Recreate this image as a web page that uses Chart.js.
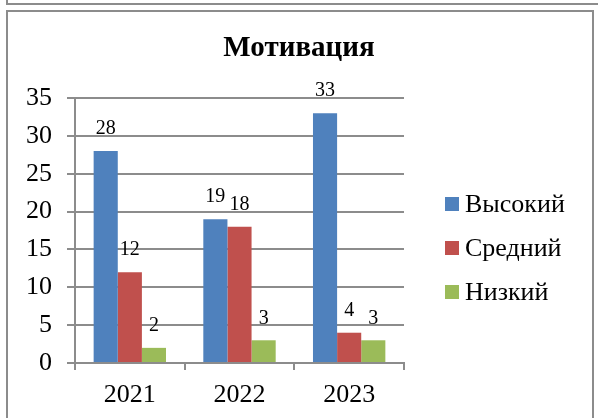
<!DOCTYPE html>
<html lang="ru">
<head>
<meta charset="utf-8">
<title>Мотивация</title>
<script src="https://cdn.jsdelivr.net/npm/chart.js@4"></script>
<style>
  html, body { margin: 0; padding: 0; background: #fff; }
  body { width: 598px; height: 418px; position: relative; overflow: hidden; }
  .frame-top { position: absolute; left: 6px; top: -2px; right: -4px; height: 5px; border-left: 2px solid #8c8c8c; border-bottom: 2px solid #8c8c8c; }
  .frame { position: absolute; left: 6px; top: 10px; width: 584px; height: 420px; border: 2px solid #8c8c8c; }
  #chart { position: absolute; left: 0; top: 0; }
</style>
</head>
<body>
<div class="frame-top"></div>
<div class="frame"></div>
<canvas id="chart" width="598" height="418"></canvas>
<script>
  // data
  const years = ['2021', '2022', '2023'];
  const seriesNames = ['Высокий', 'Средний', 'Низкий'];
  const high = [28, 19, 33];
  const medium = [12, 18, 4];
  const low = [2, 3, 3];
  const yTicks = [0, 5, 10, 15, 20, 25, 30, 35];

  const COLORS = ['#4F81BD', '#C0504D', '#9BBB59'];
  const FONT = "'Liberation Serif', 'Times New Roman', serif";
  const GRID = '#8c8c8c';

  // numbers above bars
  const barValues = {
    id: 'barValues',
    afterDatasetsDraw(chart) {
      const ctx = chart.ctx;
      ctx.save();
      ctx.font = '20px ' + FONT;
      ctx.fillStyle = '#000';
      ctx.textAlign = 'center';
      ctx.textBaseline = 'middle';
      chart.data.datasets.forEach((ds, i) => {
        chart.getDatasetMeta(i).data.forEach((bar, j) => {
          ctx.fillText(String(ds.data[j]), bar.x, bar.y - 22);
        });
      });
      ctx.restore();
    }
  };

  // legend on the right, placed like the original
  const sideLegend = {
    id: 'sideLegend',
    afterDraw(chart) {
      const ctx = chart.ctx;
      ctx.save();
      ctx.font = '26px ' + FONT;
      ctx.textBaseline = 'middle';
      chart.data.datasets.forEach((ds, i) => {
        const cy = 204 + i * 44;
        ctx.fillStyle = ds.backgroundColor;
        ctx.fillRect(445, cy - 7, 14, 14);
        ctx.fillStyle = '#000';
        ctx.fillText(ds.label, 465, cy + 1);
      });
      ctx.restore();
    }
  };

  new Chart(document.getElementById('chart'), {
    type: 'bar',
    data: {
      labels: years,
      datasets: [high, medium, low].map((d, i) => ({
        label: seriesNames[i],
        data: d,
        backgroundColor: COLORS[i],
        borderWidth: 0,
        categoryPercentage: 0.66,
        barPercentage: 1
      }))
    },
    options: {
      responsive: false,
      animation: false,
      devicePixelRatio: 1,
      layout: { padding: { top: 12, left: 0, right: 0, bottom: 0 } },
      plugins: {
        legend: { display: false },
        tooltip: { enabled: false },
        title: {
          display: true,
          text: 'Мотивация',
          color: '#000',
          font: { family: FONT, size: 29, weight: 'bold' },
          padding: { top: 19, bottom: 32.2 }
        }
      },
      scales: {
        x: {
          afterFit(axis) { axis.height = 55; },
          grid: { drawOnChartArea: false, color: GRID, lineWidth: 2, tickLength: 7, offset: true },
          border: { color: GRID, width: 2 },
          ticks: { color: '#000', padding: 10, maxRotation: 0, font: { family: FONT, size: 26 } }
        },
        y: {
          min: 0,
          max: 35,
          afterFit(axis) { axis.width = 75; },
          afterBuildTicks(axis) { axis.ticks = yTicks.map(v => ({ value: v })); },
          grid: { color: GRID, lineWidth: 2, tickLength: 8 },
          border: { color: GRID, width: 2 },
          ticks: { color: '#000', padding: 15, font: { family: FONT, size: 26 } }
        },
        yRight: {
          position: 'right',
          afterFit(axis) { axis.width = 194; },
          grid: { display: false },
          border: { display: false },
          ticks: { display: false }
        }
      }
    },
    plugins: [barValues, sideLegend]
  });
</script>
</body>
</html>
